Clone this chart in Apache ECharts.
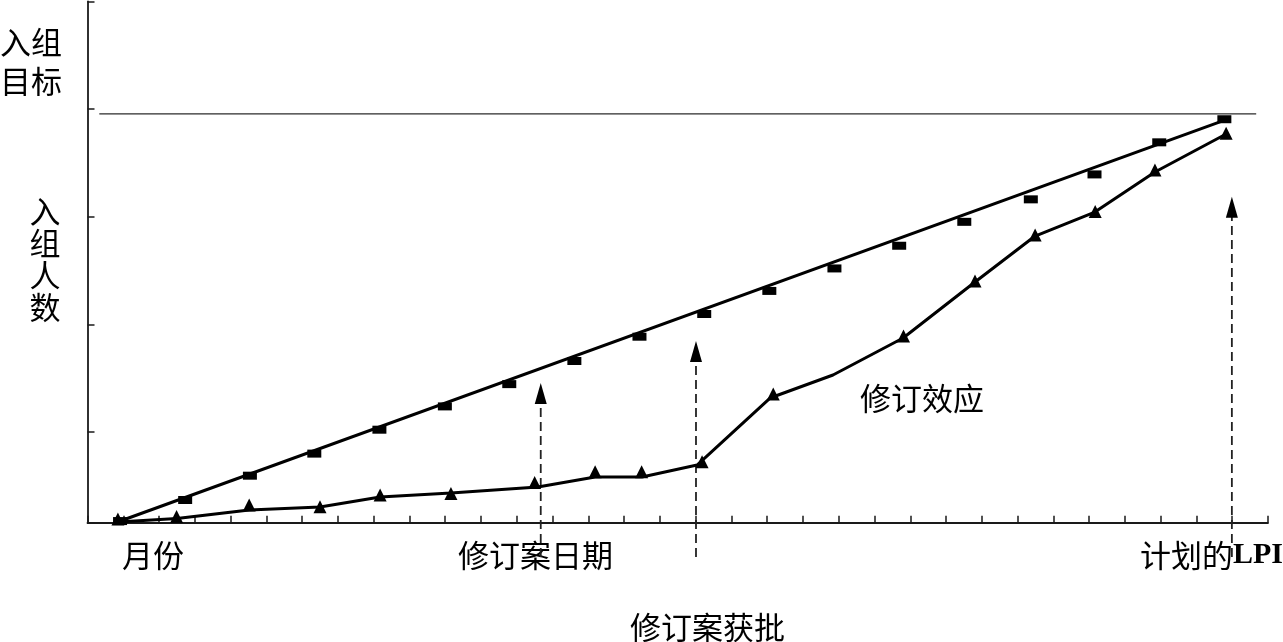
<!DOCTYPE html>
<html>
<head>
<meta charset="utf-8">
<script src="https://cdn.jsdelivr.net/npm/echarts@6/dist/echarts.min.js"></script>
<style>
  html, body { margin: 0; padding: 0; background: #fff; }
  #chart { width: 1283px; height: 642px; }
</style>
</head>
<body>
<div id="chart"></div>
<script>
// ---- data (x in axis-tick units, y in enrolment units; target = 100) ----
const planX = [0.91, 2.73, 4.54, 6.34, 8.16, 9.99, 11.79, 13.61, 15.43, 17.24, 19.06, 20.88, 22.69, 24.51, 26.37, 28.15, 29.96, 31.78];
const planY = [0.4, 5.55, 11.5, 16.9, 22.75, 28.45, 33.9, 39.55, 45.5, 51.05, 56.7, 62.2, 67.75, 73.6, 79.1, 85.2, 93.05, 98.7];

const planLineX = [0.88, 31.83];
const planLineY = [0.3, 98.6];

const actualMarkX = [0.85, 2.49, 4.52, 6.50, 8.18, 10.16, 12.50, 14.19, 15.49, 17.18, 19.17, 22.81, 24.81, 26.49, 28.17, 29.84, 31.83];
const actualMarkY = [0.91, 1.52, 4.33, 3.91, 6.78, 7.14, 9.83, 12.48, 12.48, 14.92, 31.48, 45.67, 59.12, 70.38, 76.13, 86.28, 95.25];

const actualPathX = [0.85, 2.50, 4.52, 6.50, 8.18, 10.16, 12.59, 14.19, 15.50, 17.04, 19.08, 20.84, 22.80, 24.81, 26.49, 28.16, 29.84, 31.83];
const actualPathY = [0.17, 1.03, 3.11, 3.84, 6.29, 7.27, 8.73, 11.18, 11.18, 14.11, 30.50, 36.13, 45.18, 58.88, 70.13, 76.0, 85.79, 95.08];

const targetX = [0.33, 32.67];
const targetValue = 100;

const arrowX = [12.67, 17.01, 31.99];
const arrowTip = [34.17, 44.45, 79.75];
const arrowBase = -8.39;

const xTickMax = 33;
const yTickMax = 4.844;
const yDataMax = 127.5;

// ---- build ----
const zip = (xs, ys) => xs.map((x, i) => [x, ys[i]]);
const CJK = '"Noto Sans CJK SC", "Noto Sans", sans-serif';

const series = [
  {
    type: 'line', yAxisIndex: 1, silent: true, symbol: 'none',
    data: targetX.map(x => [x, targetValue]),
    lineStyle: { color: '#2b2b2b', width: 1.4 }, z: 2
  },
  {
    type: 'line', yAxisIndex: 1, silent: true, symbol: 'none',
    data: zip(planLineX, planLineY),
    lineStyle: { color: '#000', width: 3 }, z: 3
  },
  {
    type: 'scatter', yAxisIndex: 1, silent: true, symbol: 'rect', symbolSize: [14, 8],
    data: zip(planX, planY),
    itemStyle: { color: '#000', opacity: 1 }, z: 4
  },
  {
    type: 'line', yAxisIndex: 1, silent: true, symbol: 'none',
    data: zip(actualPathX, actualPathY),
    lineStyle: { color: '#000', width: 3 }, z: 3
  },
  {
    type: 'scatter', yAxisIndex: 1, silent: true, symbol: 'triangle', symbolSize: [13, 13],
    data: zip(actualMarkX, actualMarkY),
    itemStyle: { color: '#000', opacity: 1 }, z: 4
  }
];

arrowX.forEach((x, i) => {
  series.push({
    type: 'line', yAxisIndex: 1, silent: true, symbol: 'none', clip: false,
    data: [[x, arrowBase], [x, arrowTip[i] - 3]],
    lineStyle: { color: '#222', width: 1.8, type: [9, 5] }, z: 2
  });
  series.push({
    type: 'scatter', yAxisIndex: 1, silent: true, clip: false,
    symbol: 'triangle', symbolSize: [12, 21], symbolOffset: [0, '50%'],
    data: [[x, arrowTip[i]]],
    itemStyle: { color: '#000', opacity: 1 }, z: 5
  });
});

const txt = (text, x, y, extra) => ({
  type: 'text', x: x, y: y, silent: true,
  style: Object.assign({
    text: text, fontSize: 31, fontFamily: CJK, fill: '#000',
    align: 'center', verticalAlign: 'middle'
  }, extra || {})
});

const option = {
  animation: false,
  backgroundColor: '#fff',
  grid: { left: 87.5, right: 15, top: 1.5, bottom: 119.3, containLabel: false },
  xAxis: {
    type: 'value', min: 0, max: xTickMax, interval: 1,
    axisLine: { show: true, onZero: false, lineStyle: { color: '#1a1a1a', width: 1.8 } },
    axisTick: { show: true, inside: true, length: 7, lineStyle: { color: '#1a1a1a', width: 1.5 } },
    axisLabel: { show: false },
    splitLine: { show: false }
  },
  yAxis: [
    {
      type: 'value', inverse: true, min: 0, max: yTickMax, interval: 1, position: 'left',
      axisLine: { show: true, onZero: false, lineStyle: { color: '#1a1a1a', width: 1.8 } },
      axisTick: { show: true, inside: true, length: 7, lineStyle: { color: '#1a1a1a', width: 1.5 } },
      axisLabel: { show: false },
      splitLine: { show: false }
    },
    {
      type: 'value', min: 0, max: yDataMax, show: false,
      splitLine: { show: false }
    }
  ],
  series: series,
  graphic: [
    txt('入组\n目标', 31, 62, { lineHeight: 39 }),
    txt('入\n组\n人\n数', 45, 259, { lineHeight: 32 }),
    txt('修订效应', 922, 398),
    txt('月份', 153, 555),
    txt('修订案日期', 535.5, 555),
    txt('修订案获批', 707.5, 627),
    {
      type: 'text', x: 1283, y: 555, silent: true,
      style: {
        text: '{a|计划的}{b|LPI}', align: 'right', verticalAlign: 'middle',
        rich: {
          a: { fontSize: 31, fontFamily: CJK, fill: '#000' },
          b: { fontSize: 30, fontFamily: '"Liberation Serif", "DejaVu Serif", serif', fontWeight: 'bold', fill: '#000' }
        }
      }
    }
  ]
};

const chart = echarts.init(document.getElementById('chart'), null, { renderer: 'canvas' });
chart.setOption(option);
</script>
</body>
</html>
